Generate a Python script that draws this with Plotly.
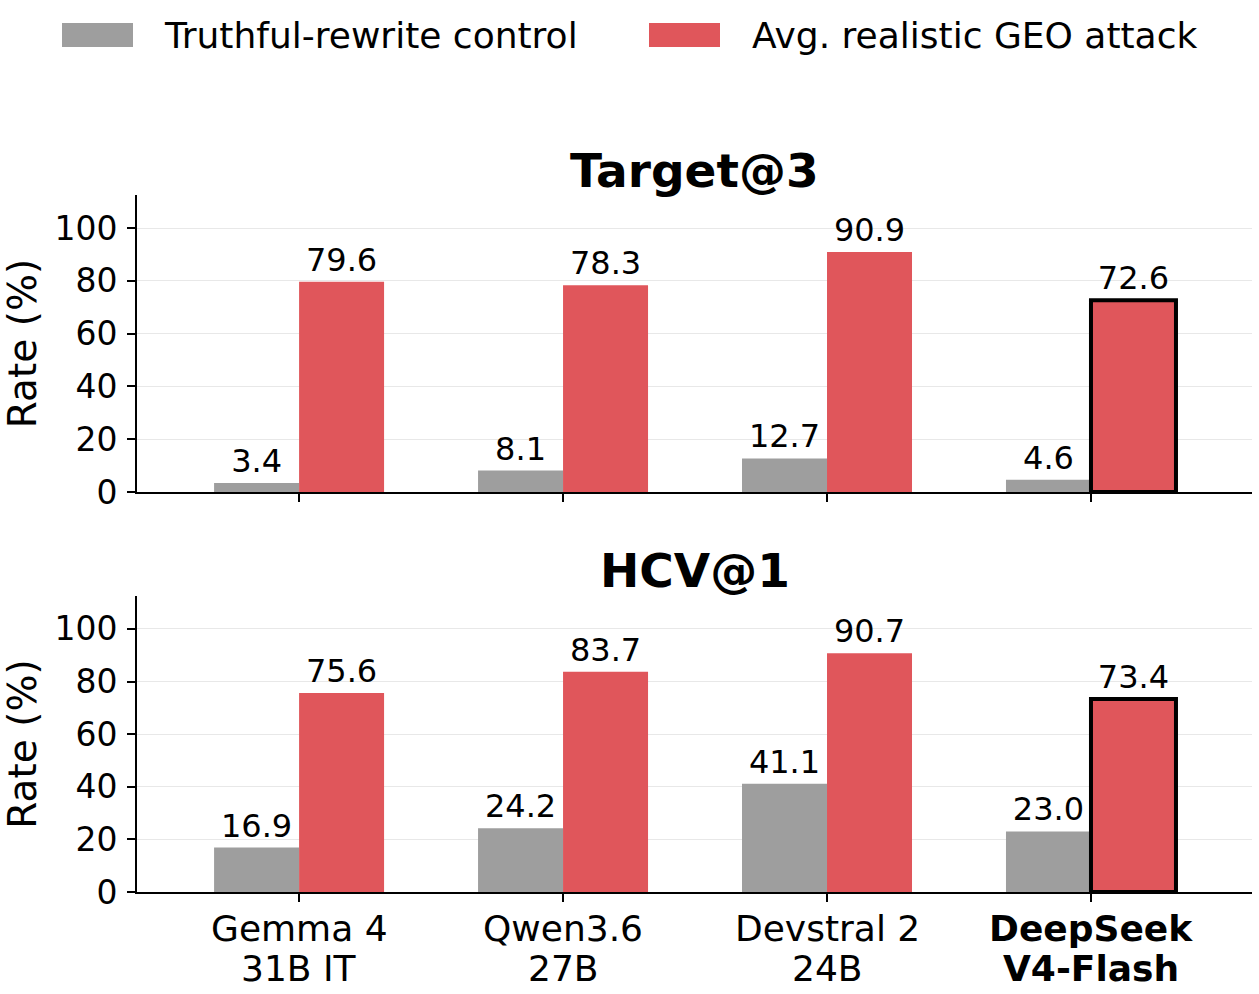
import plotly.graph_objects as go
from plotly.subplots import make_subplots

model_line1 = ["Gemma 4", "Qwen3.6", "Devstral 2", "<b>DeepSeek</b>"]
model_line2 = ["31B IT", "27B", "24B", "<b>V4-Flash</b>"]
series_names = ["Truthful-rewrite control", "Avg. realistic GEO attack"]
target3_control = [3.4, 8.1, 12.7, 4.6]
target3_attack = [79.6, 78.3, 90.9, 72.6]
hcv1_control = [16.9, 24.2, 41.1, 23.0]
hcv1_attack = [75.6, 83.7, 90.7, 73.4]
panel_titles = ["Target@3", "HCV@1"]
y_ticks = [0, 20, 40, 60, 80, 100]

GRAY = "#9E9E9E"
RED = "#E0565B"
FONT = "DejaVu Sans"

W, H = 1259, 994
ml, mr, mt, mb = 137, 7, 195, 102
pw = W - ml - mr
ph = H - mt - mb

def px_x(x):
    return (x - ml) / pw

def px_y(y):
    return (H - mb - y) / ph

top_dom = [px_y(492), 1.0]
bot_dom = [0.0, px_y(596)]

fig = make_subplots(rows=2, cols=1, shared_xaxes=False)

x_idx = list(range(len(model_line1)))
panels = [(target3_control, target3_attack), (hcv1_control, hcv1_attack)]
for r, (ctrl, att) in enumerate(panels, start=1):
    fig.add_trace(go.Bar(
        x=x_idx, y=ctrl, name=series_names[0], marker=dict(color=GRAY, line=dict(width=0)),
        text=[f"{v:.1f}" for v in ctrl], textposition="outside", constraintext="none",
        textfont=dict(family=FONT, size=32, color="black"), cliponaxis=False, showlegend=False,
    ), row=r, col=1)
    fig.add_trace(go.Bar(
        x=x_idx, y=att, name=series_names[1],
        marker=dict(color=RED, line=dict(color="black", width=[0, 0, 0, 4])),
        text=[f"{v:.1f}" for v in att], textposition="outside", constraintext="none",
        textfont=dict(family=FONT, size=32, color="black"), cliponaxis=False, showlegend=False,
    ), row=r, col=1)

fig.update_layout(
    width=W, height=H, margin=dict(l=ml, r=mr, t=mt, b=mb, autoexpand=False),
    paper_bgcolor="white", plot_bgcolor="white",
    barmode="group", bargap=0.356, bargroupgap=0,
    font=dict(family=FONT, color="black"),
    showlegend=False,
)

xr = [-0.614, 3.61]
for i, dom in zip([1, 2], [top_dom, bot_dom]):
    fig.update_xaxes(
        row=i, col=1, range=xr, tickmode="array", tickvals=x_idx,
        showticklabels=False, automargin=False,
        ticks="outside", ticklen=8, tickwidth=2, tickcolor="black",
        showline=True, linecolor="black", linewidth=2, showgrid=False, zeroline=False,
    )
    fig.update_yaxes(
        row=i, col=1, range=[0, 112.5], domain=dom, tickvals=y_ticks, automargin=False,
        ticks="outside", ticklen=8, tickwidth=2, tickcolor="black",
        showline=True, linecolor="black", linewidth=2,
        showgrid=True, gridcolor="#E8E8E8", gridwidth=1, zeroline=False,
        tickfont=dict(family=FONT, size=33, color="black"), ticklabelstandoff=3,
        title=dict(text="Rate (%)", font=dict(family=FONT, size=39, color="black"), standoff=7),
    )

# Category labels (two lines under bottom panel)
for xi, l1, l2 in zip(x_idx, model_line1, model_line2):
    for txt, yc in ((l1, 929), (l2, 968)):
        fig.add_annotation(text=txt, xref="x2", yref="paper", x=xi, y=px_y(yc),
                           xanchor="center", yanchor="middle", showarrow=False,
                           font=dict(family=FONT, size=36, color="black"))

# Panel titles
for t, yc in zip(panel_titles, [170, 570]):
    fig.add_annotation(text=f"<b>{t}</b>", xref="paper", yref="paper", x=0.5, y=px_y(yc),
                       xanchor="center", yanchor="middle", showarrow=False,
                       font=dict(family=FONT, size=47, color="black"))

# Legend (manual)
for (x0, x1, tx), col, name in zip([(62, 133, 162), (649, 720, 750)], [GRAY, RED], series_names):
    fig.add_shape(type="rect", xref="paper", yref="paper", x0=px_x(x0), x1=px_x(x1),
                  y0=px_y(47), y1=px_y(23), fillcolor=col, line=dict(width=0))
    fig.add_annotation(text=name, xref="paper", yref="paper", x=px_x(tx), y=px_y(35),
                       xanchor="left", yanchor="middle", showarrow=False,
                       font=dict(family=FONT, size=36, color="black"))

fig.write_html("out.html")
